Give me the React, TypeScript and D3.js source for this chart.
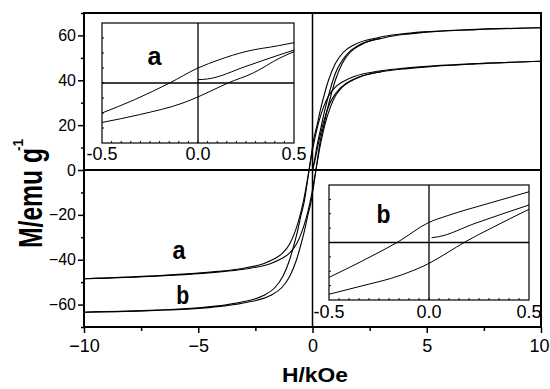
import React, { useEffect, useRef } from 'react';
import * as d3 from 'd3';

// H in kOe, M in emu/g  (main hysteresis loops)
const loopADown = [[-10, -48.5], [-7.15, -47.3], [-5.15, -46.1], [-4.15, -45.2], [-3.15, -44], [-2.15, -41.8], [-1.65, -39.5], [-1.3, -37], [-1.0, -33], [-0.8, -28.5], [-0.65, -24], [-0.5, -18.5], [-0.35, -11.5], [-0.25, -6], [-0.15, 0], [-0.05, 6], [0.05, 11.5], [0.2, 18.5], [0.35, 24], [0.5, 28.5], [0.7, 33], [1.0, 37], [1.35, 39.5], [1.85, 41.8], [2.85, 44], [3.85, 45.2], [4.85, 46.1], [6.85, 47.3], [10, 48.5]];
const loopAUp = [[-10, -48.5], [-6.85, -47.3], [-4.85, -46.1], [-3.85, -45.2], [-2.85, -44], [-1.85, -41.8], [-1.35, -39.5], [-1.0, -37], [-0.7, -33], [-0.5, -28.5], [-0.35, -24], [-0.2, -18.5], [-0.05, -11.5], [0.05, -6], [0.15, 0], [0.25, 6], [0.35, 11.5], [0.5, 18.5], [0.65, 24], [0.8, 28.5], [1.0, 33], [1.3, 37], [1.65, 39.5], [2.15, 41.8], [3.15, 44], [4.15, 45.2], [5.15, 46.1], [7.15, 47.3], [10, 48.5]];
const loopAInit = [[0, 0], [0.1, 4], [0.2, 9], [0.35, 16], [0.5, 22], [0.75, 29.5], [1, 34], [1.5, 38.8], [2, 41.3], [3, 43.8]];

const loopBDown = [[-10, -63.4], [-7.15, -62.6], [-5.15, -61.6], [-4.15, -60.6], [-3.15, -59], [-2.15, -56], [-1.65, -52.5], [-1.3, -47.5], [-1.0, -40], [-0.8, -33], [-0.65, -27], [-0.5, -20], [-0.35, -13.5], [-0.25, -7], [-0.15, 0], [-0.05, 7], [0.05, 13.5], [0.2, 20], [0.35, 27], [0.5, 33], [0.7, 40], [1.0, 47.5], [1.35, 52.5], [1.85, 56], [2.85, 59], [3.85, 60.6], [4.85, 61.6], [6.85, 62.6], [10, 63.4]];
const loopBUp = [[-10, -63.4], [-6.85, -62.6], [-4.85, -61.6], [-3.85, -60.6], [-2.85, -59], [-1.85, -56], [-1.35, -52.5], [-1.0, -47.5], [-0.7, -40], [-0.5, -33], [-0.35, -27], [-0.2, -20], [-0.05, -13.5], [0.05, -7], [0.15, 0], [0.25, 7], [0.35, 13.5], [0.5, 20], [0.65, 27], [0.8, 33], [1.0, 40], [1.3, 47.5], [1.65, 52.5], [2.15, 56], [3.15, 59], [4.15, 60.6], [5.15, 61.6], [7.15, 62.6], [10, 63.4]];
const loopBInit = [[0, 0], [0.1, 5], [0.2, 11], [0.35, 18], [0.5, 25], [0.75, 35], [1, 43], [1.5, 51.5], [2, 55.5], [3, 58.7]];

// low-field insets
const insetADown = [[-0.5, -20], [-0.33, -11.1], [-0.148, 0], [0, 10], [0.11, 15.5], [0.25, 21], [0.42, 24.9], [0.5, 26.9]];
const insetAUp = [[-0.5, -26.3], [-0.305, -21.1], [-0.078, -13.3], [0, -9.3], [0.156, 0], [0.288, 6.7], [0.427, 16.7], [0.5, 20.9]];
const insetAInit = [[0.0, 2.2], [0.05, 2.7], [0.25, 11.1], [0.427, 18.9], [0.5, 21.9]];

const insetBDown = [[-0.5, -24.3], [-0.35, -14], [-0.25, -6.8], [-0.16, 0], [0, 14], [0.1, 19], [0.3, 27.3], [0.5, 35.3]];
const insetBUp = [[-0.5, -36], [-0.35, -30.7], [-0.14, -22.7], [0, -14.5], [0.1, -6.4], [0.175, 0], [0.31, 9.9], [0.5, 23.1]];
const insetBInit = [[0.013, 3.3], [0.047, 4], [0.23, 13.3], [0.5, 26.1]];

const xTicks = [-10, -5, 0, 5, 10];
const xMinor = [-7.5, -2.5, 2.5, 7.5];
const yTicks = [-60, -40, -20, 0, 20, 40, 60];
const yMinor = [-70, -50, -30, -10, 10, 30, 50, 70];
const insetTicks = [-0.5, 0.0, 0.5];

const font = '"Liberation Sans", Arial, sans-serif';

function drawInset(svg, box, down, up, init, label, labelPos, labelBase) {
  const xs = d3.scaleLinear().domain([-0.5, 0.5]).range([box.x0, box.x1]);
  const ys = d3.scaleLinear().domain([-40, 40]).range([box.y1, box.y0]);
  const g = svg.append('g');

  g.append('rect')
    .attr('x', box.x0).attr('y', box.y0)
    .attr('width', box.x1 - box.x0).attr('height', box.y1 - box.y0)
    .attr('fill', '#fff');

  // inward minor ticks
  d3.range(-0.45, 0.5, 0.05).forEach(t => {
    g.append('line')
      .attr('x1', xs(t)).attr('x2', xs(t))
      .attr('y1', box.y1).attr('y2', box.y1 - 2)
      .attr('stroke', '#000').attr('stroke-width', 1);
  });
  d3.range(-30, 40, 10).forEach(t => {
    g.append('line')
      .attr('x1', box.x0).attr('x2', box.x0 + 2)
      .attr('y1', ys(t)).attr('y2', ys(t))
      .attr('stroke', '#000').attr('stroke-width', 1);
  });

  g.append('line')
    .attr('x1', xs(0)).attr('x2', xs(0)).attr('y1', box.y0).attr('y2', box.y1)
    .attr('stroke', '#000').attr('stroke-width', 1.3);
  g.append('line')
    .attr('x1', box.x0).attr('x2', box.x1).attr('y1', ys(0)).attr('y2', ys(0))
    .attr('stroke', '#000').attr('stroke-width', 1.3);

  const line = d3.line().x(d => xs(d[0])).y(d => ys(d[1])).curve(d3.curveMonotoneX);
  [down, up, init].forEach(s => {
    g.append('path').attr('d', line(s)).attr('fill', 'none')
      .attr('stroke', '#000').attr('stroke-width', 1);
  });

  g.append('rect')
    .attr('x', box.x0).attr('y', box.y0)
    .attr('width', box.x1 - box.x0).attr('height', box.y1 - box.y0)
    .attr('fill', 'none').attr('stroke', '#000').attr('stroke-width', 1.2);

  insetTicks.forEach(t => {
    g.append('text')
      .attr('x', xs(t)).attr('y', labelBase)
      .attr('text-anchor', 'middle')
      .attr('font-family', font).attr('font-size', 18)
      .text(t.toFixed(1));
  });

  g.append('text')
    .attr('x', labelPos[0]).attr('y', labelPos[1])
    .attr('text-anchor', 'middle')
    .attr('font-family', font).attr('font-size', 26).attr('font-weight', 'bold')
    .attr('textLength', 14).attr('lengthAdjust', 'spacingAndGlyphs')
    .text(label);
}

function App() {
  const svgRef = useRef(null);

  useEffect(() => {
    const svg = d3.select(svgRef.current);
    svg.selectAll('*').remove();

    const left = 84, right = 541, top = 13, bottom = 327;
    const x = d3.scaleLinear().domain([-10, 10]).range([left, right]);
    const y = d3.scaleLinear().domain([-70, 70]).range([bottom, top]);

    svg.append('rect').attr('width', 550).attr('height', 389).attr('fill', '#fff');

    svg.append('clipPath').attr('id', 'plotclip')
      .append('rect').attr('x', left).attr('y', top)
      .attr('width', right - left).attr('height', bottom - top);

    // zero lines
    svg.append('line')
      .attr('x1', left).attr('x2', right).attr('y1', y(0)).attr('y2', y(0))
      .attr('stroke', '#000').attr('stroke-width', 2);
    svg.append('line')
      .attr('x1', x(0)).attr('x2', x(0)).attr('y1', top).attr('y2', bottom)
      .attr('stroke', '#000').attr('stroke-width', 1.5);

    const line = d3.line().x(d => x(d[0])).y(d => y(d[1])).curve(d3.curveMonotoneX);
    const curves = svg.append('g').attr('clip-path', 'url(#plotclip)');
    [loopADown, loopAUp, loopAInit, loopBDown, loopBUp, loopBInit].forEach(s => {
      curves.append('path').attr('d', line(s)).attr('fill', 'none')
        .attr('stroke', '#000').attr('stroke-width', 1.1);
    });

    // axes
    const xAxis = svg.append('g').attr('transform', `translate(0,${bottom})`)
      .call(d3.axisBottom(x).tickValues(xTicks).tickSize(6).tickPadding(6).tickFormat(d3.format('d')));
    svg.append('g').attr('transform', `translate(0,${bottom})`)
      .call(d3.axisBottom(x).tickValues(xMinor).tickSize(4).tickFormat(() => ''));
    const yAxis = svg.append('g').attr('transform', `translate(${left},0)`)
      .call(d3.axisLeft(y).tickValues(yTicks).tickSize(6).tickPadding(2).tickFormat(d3.format('d')));
    svg.append('g').attr('transform', `translate(${left},0)`)
      .call(d3.axisLeft(y).tickValues(yMinor).tickSize(3).tickFormat(() => ''));
    svg.selectAll('.domain').remove();
    svg.selectAll('.tick line').attr('stroke-width', 1.5);
    xAxis.selectAll('text').attr('font-size', 18).attr('font-family', font)
      .attr('dx', d => (d === 10 ? -2 : 0));
    yAxis.selectAll('text').attr('font-size', 16).attr('font-family', font);

    // frame
    svg.append('rect')
      .attr('x', left).attr('y', top)
      .attr('width', right - left).attr('height', bottom - top)
      .attr('fill', 'none').attr('stroke', '#000').attr('stroke-width', 2);

    drawInset(svg, { x0: 102, x1: 294, y0: 23, y1: 143 }, insetADown, insetAUp, insetAInit, 'a', [154.5, 65], 160);
    drawInset(svg, { x0: 329, x1: 529, y0: 185, y1: 300 }, insetBDown, insetBUp, insetBInit, 'b', [383.5, 223], 318);

    // curve labels
    svg.append('text').attr('x', 179).attr('y', 259)
      .attr('text-anchor', 'middle').attr('font-family', font)
      .attr('font-size', 26).attr('font-weight', 'bold')
      .attr('textLength', 13).attr('lengthAdjust', 'spacingAndGlyphs').text('a');
    svg.append('text').attr('x', 182.7).attr('y', 304)
      .attr('text-anchor', 'middle').attr('font-family', font)
      .attr('font-size', 26).attr('font-weight', 'bold')
      .attr('textLength', 13).attr('lengthAdjust', 'spacingAndGlyphs').text('b');

    // axis titles
    svg.append('text').attr('x', 315).attr('y', 382)
      .attr('text-anchor', 'middle').attr('font-family', font)
      .attr('font-size', 21).attr('font-weight', 'bold')
      .attr('textLength', 66).attr('lengthAdjust', 'spacingAndGlyphs').text('H/kOe');
    svg.append('text').attr('transform', 'translate(42,248) rotate(-90)')
      .attr('font-family', font).attr('font-size', 33).attr('font-weight', 'bold')
      .attr('textLength', 100).attr('lengthAdjust', 'spacingAndGlyphs').text('M/emu g');
    svg.append('text').attr('transform', 'translate(23,151) rotate(-90)')
      .attr('font-family', font).attr('font-size', 15).attr('font-weight', 'bold')
      .attr('textLength', 12).attr('lengthAdjust', 'spacingAndGlyphs').text('-1');
  }, []);

  return (
    <svg ref={svgRef} width={550} height={389}
      style={{ position: 'absolute', left: 0, top: 0 }}></svg>
  );
}

export default App;
